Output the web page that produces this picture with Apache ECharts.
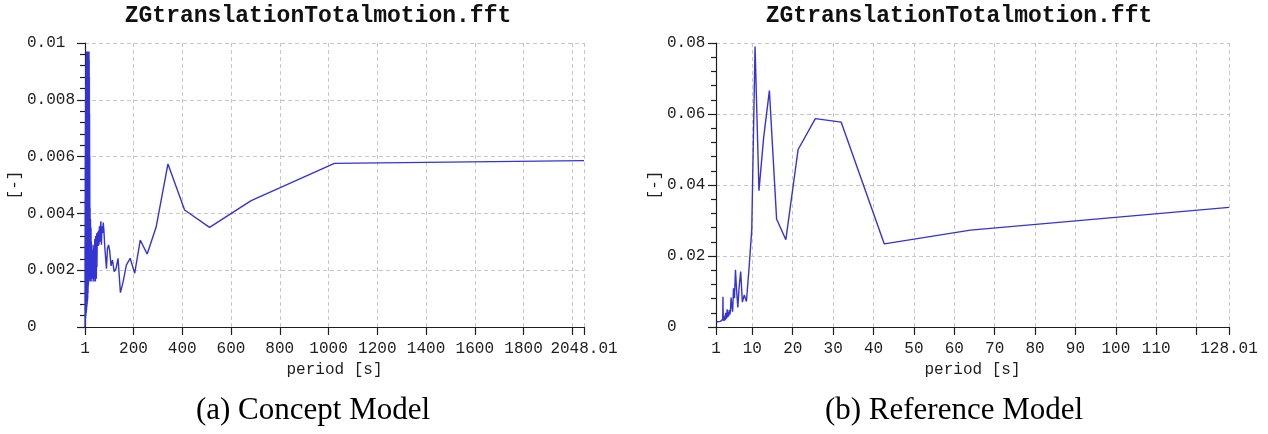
<!DOCTYPE html>
<html>
<head>
<meta charset="utf-8">
<title>ZGtranslationTotalmotion.fft</title>
<script src="https://cdn.jsdelivr.net/npm/echarts@6/dist/echarts.min.js"></script>
<style>
  html, body { margin: 0; padding: 0; background: #ffffff; }
  #chart { width: 1268px; height: 434px; }
</style>
</head>
<body>
<div id="chart"></div>
<script>
// Panel (a): Concept Model, period [s] vs FFT amplitude [-]
const conceptPeriod = [
  2048.01, 1024, 682.7, 512, 409.6, 341.3, 292.6, 256, 227.6, 204.8, 186.2, 170.7, 157.5,
  146.3, 136.5, 128, 120.5, 113.8, 107.8, 102.4, 97.5, 93.1, 89.0, 85.3, 81.9, 78.8,
  75.9, 73.1, 70.6, 68.3, 66.1, 64, 62.1, 60.2, 58.5, 56.9, 55.4, 53.9, 52.5, 51.2,
  49.9, 48.8, 47.6, 46.5, 45.5, 44.5, 43.6, 42.7, 41.8, 41.0, 40.2, 39.4, 38.6, 37.9,
  37.2, 36.6, 35.3, 34.1, 33.0, 32.0, 31.0, 30.1, 29.3, 28.4, 27.7, 26.9, 26.3, 25.6,
  24.4, 23.5, 22.5, 21.8, 21.1,
  20.5, 20.1, 19.7, 19.3, 18.9, 18.5, 18.1, 17.8, 17.4, 17.1, 16.8, 16.4, 16.1, 15.8,
  15.5, 15.2, 14.9, 14.6, 14.3, 14.0, 13.7, 13.4, 13.1, 12.8, 12.5, 12.2, 11.9, 11.6,
  11.3, 11.0, 10.7, 10.4, 10.1, 9.8, 9.5, 9.2, 8.9, 8.6, 8.3, 8.0, 7.7, 7.4,
  7.1, 6.8, 6.5, 6.2, 5.9, 5.6, 5.3, 5.0, 4.7, 4.4, 4.1, 3.8, 3.5, 3.2,
  2.9, 2.6, 2.3, 2.0, 1.8, 1.6, 1.4, 1.2, 1.0
];
const conceptAmp = [
  0.00586, 0.00576, 0.00445, 0.00351, 0.00412, 0.00574, 0.00351, 0.00257, 0.00306, 0.00189, 0.00242, 0.00218, 0.00160,
  0.00121, 0.00242, 0.00205, 0.00195, 0.00236, 0.00215, 0.00268, 0.00289, 0.00276, 0.00205, 0.00212, 0.00285, 0.00336,
  0.00368, 0.00330, 0.00355, 0.00290, 0.00372, 0.00345, 0.00300, 0.00355, 0.00290, 0.00340, 0.00285, 0.00335, 0.00290, 0.00305,
  0.0021, 0.0033, 0.0017, 0.0029, 0.0019, 0.0032, 0.0016, 0.0027, 0.0020, 0.0031, 0.0017, 0.0026, 0.0018, 0.0028,
  0.0016, 0.0025, 0.0019, 0.0029, 0.0017, 0.0024, 0.0018, 0.0027, 0.0016, 0.0023, 0.0019, 0.0030, 0.0017, 0.0035,
  0.0018, 0.0038, 0.0016, 0.0042, 0.0019,
  0.0060, 0.0018, 0.0075, 0.0021, 0.0088, 0.0017, 0.0094, 0.0022, 0.0097, 0.0019, 0.0095, 0.0016, 0.0097, 0.0020,
  0.0093, 0.0015, 0.0096, 0.0018, 0.0097, 0.0014, 0.0094, 0.0012, 0.0096, 0.0016, 0.0097, 0.0010, 0.0095, 0.0013,
  0.0097, 0.0009, 0.0092, 0.0011, 0.0096, 0.0008, 0.0097, 0.0010, 0.0094, 0.0007, 0.0096, 0.0009, 0.0093, 0.0006,
  0.0097, 0.0008, 0.0091, 0.0005, 0.0095, 0.0007, 0.0088, 0.0005, 0.0092, 0.0004, 0.0085, 0.0004, 0.0080, 0.0003,
  0.0072, 0.0003, 0.0060, 0.0002, 0.0045, 0.0002, 0.0030, 0.0001, 0.0000
];

// Panel (b): Reference Model
const refPeriod = [
  128.01, 64, 42.67, 32, 25.6, 21.33, 18.29, 16, 14.22, 12.8, 11.64, 10.67, 9.85, 9.14,
  8.53, 8.0, 7.53, 7.11, 6.74, 6.4, 6.1, 5.82, 5.57, 5.33, 5.12, 4.92, 4.74, 4.57,
  4.41, 4.27, 4.13, 4.0, 3.88, 3.76, 3.66, 3.56, 3.46, 3.37, 3.28, 3.2, 3.12, 3.05,
  2.98, 2.91, 2.84, 2.78, 2.72, 2.67, 2.61, 2.56, 2.46, 2.37, 2.29, 2.21, 2.13, 2.0,
  1.88, 1.78, 1.6, 1.42, 1.28, 1.16
];
const refAmp = [
  0.0337, 0.0273, 0.0234, 0.0577, 0.0587, 0.0500, 0.0246, 0.0304, 0.0666, 0.0534, 0.0384, 0.0790, 0.0273, 0.0160,
  0.0072, 0.0090, 0.0070, 0.0156, 0.0114, 0.0055, 0.0104, 0.0161, 0.0081, 0.0109, 0.0043, 0.0060, 0.0083, 0.0045,
  0.0035, 0.0048, 0.0030, 0.0042, 0.0028, 0.0050, 0.0025, 0.0032, 0.0022, 0.0040, 0.0020, 0.0028, 0.0018, 0.0022,
  0.0020, 0.0032, 0.0017, 0.0030, 0.0085, 0.0022, 0.0018, 0.0025, 0.0019, 0.0022, 0.0017, 0.0020, 0.0016, 0.0018,
  0.0015, 0.0017, 0.0015, 0.0016, 0.0015, 0.0015
];

// Axis tick positions and the subset that carries labels
const conceptTicks = [1, 200, 400, 600, 800, 1000, 1200, 1400, 1600, 1800, 2000, 2048.01];
const conceptLabels = [1, 200, 400, 600, 800, 1000, 1200, 1400, 1600, 1800, 2048.01];
const refTicks = [1, 10, 20, 30, 40, 50, 60, 70, 80, 90, 100, 110, 120, 128.01];
const refLabels = [1, 10, 20, 30, 40, 50, 60, 70, 80, 90, 100, 110, 128.01];

const chartTitle = 'ZGtranslationTotalmotion.fft';
const xName = 'period [s]';
const yName = '[-]';
const captions = ['(a) Concept Model', '(b) Reference Model'];

const MONO = '"Liberation Mono", "Courier New", monospace';
const INK = '#1e1e1e';
const LINE = '#3434d2';
const SERIF = '31px "Liberation Serif", "Times New Roman", serif';

function pairs(xs, ys) {
  return xs.map((x, i) => [x, ys[i]]);
}

function xAxisCfg(gridIndex, min, max, ticks, labels) {
  return {
    type: 'value', gridIndex, min, max,
    name: xName, nameLocation: 'middle', nameGap: 35,
    nameTextStyle: { fontFamily: MONO, fontSize: 16, color: INK },
    axisLine: { show: true, onZero: false, lineStyle: { color: INK, width: 1.2 } },
    axisTick: { show: true, length: 8, customValues: ticks, lineStyle: { color: INK, width: 1.2 } },
    axisLabel: {
      customValues: labels, margin: 14,
      fontFamily: MONO, fontSize: 16, color: INK,
      formatter: v => String(v)
    },
    splitLine: { show: true, lineStyle: { color: '#c8c8c8', type: [4, 3], width: 1 } }
  };
}

function yAxisCfg(gridIndex, max, interval, labelMargin, nameGap) {
  return {
    type: 'value', gridIndex, min: 0, max, interval,
    name: yName, nameLocation: 'middle', nameGap, nameRotate: 90,
    nameTextStyle: { fontFamily: MONO, fontSize: 16, color: INK },
    axisLine: { show: true, lineStyle: { color: INK, width: 1.2 } },
    axisTick: { show: true, length: 8, lineStyle: { color: INK, width: 1.2 } },
    minorTick: { show: true, splitNumber: 5, length: 5, lineStyle: { color: INK, width: 1.2 } },
    axisLabel: {
      margin: labelMargin, align: 'left',
      fontFamily: MONO, fontSize: 16, color: INK,
      formatter: v => String(v)
    },
    splitLine: { show: true, lineStyle: { color: '#c8c8c8', type: [4, 3], width: 1 } }
  };
}

const chart = echarts.init(document.getElementById('chart'), null, { renderer: 'canvas' });

chart.setOption({
  backgroundColor: '#ffffff',
  animation: false,
  title: [
    { text: chartTitle, left: 313, top: 0, textAlign: 'center',
      textStyle: { fontFamily: MONO, fontWeight: 'bold', fontSize: 23, color: '#111' } },
    { text: chartTitle, left: 954, top: 0, textAlign: 'center',
      textStyle: { fontFamily: MONO, fontWeight: 'bold', fontSize: 23, color: '#111' } }
  ],
  grid: [
    { left: 85, top: 43, width: 499, height: 284, containLabel: false },
    { left: 716, top: 43, width: 513, height: 284, containLabel: false }
  ],
  xAxis: [
    xAxisCfg(0, 1, 2048.01, conceptTicks, conceptLabels),
    xAxisCfg(1, 1, 128.01, refTicks, refLabels)
  ],
  yAxis: [
    yAxisCfg(0, 0.01, 0.002, 58, 58),
    yAxisCfg(1, 0.08, 0.02, 49, 49)
  ],
  series: [
    { type: 'line', xAxisIndex: 0, yAxisIndex: 0, data: pairs(conceptPeriod, conceptAmp),
      showSymbol: false, lineStyle: { color: LINE, width: 1.4 }, silent: true },
    { type: 'line', xAxisIndex: 1, yAxisIndex: 1, data: pairs(refPeriod, refAmp),
      showSymbol: false, lineStyle: { color: LINE, width: 1.4 }, silent: true }
  ],
  graphic: [
    { type: 'text', style: { text: captions[0], x: 313, y: 411,
      textAlign: 'center', textVerticalAlign: 'middle', font: SERIF, fill: '#000' } },
    { type: 'text', style: { text: captions[1], x: 954, y: 411,
      textAlign: 'center', textVerticalAlign: 'middle', font: SERIF, fill: '#000' } }
  ]
});
</script>
</body>
</html>
